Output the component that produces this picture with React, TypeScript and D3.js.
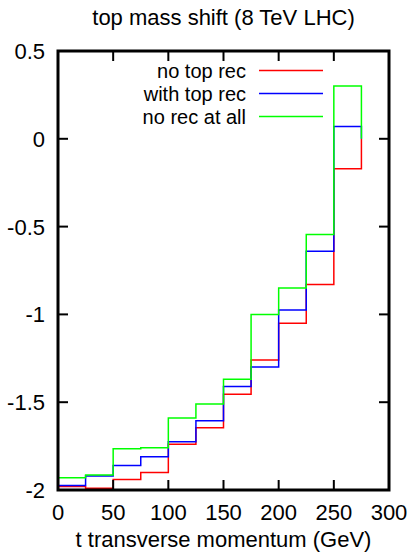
import { useEffect, useRef } from 'react'
import * as d3 from 'd3'

// bin left edges (GeV), bins are 25 GeV wide
const binEdges = [0, 25, 50, 75, 100, 125, 150, 175, 200, 225, 250]
const binWidth = 25

const noTopRec = [-1.98, -1.99, -1.94, -1.9, -1.74, -1.645, -1.455, -1.26, -1.05, -0.83, -0.17]
const withTopRec = [-1.975, -1.92, -1.86, -1.81, -1.725, -1.605, -1.41, -1.3, -0.975, -0.64, 0.07]
const noRecAtAll = [-1.93, -1.915, -1.765, -1.76, -1.59, -1.51, -1.37, -1.0, -0.85, -0.545, 0.3]

const seriesNames = ['no top rec', 'with top rec', 'no rec at all']
const seriesColors = ['#ff0000', '#0000ff', '#00ff00']

const xTicks = [0, 50, 100, 150, 200, 250, 300]
const yTicks = [0.5, 0, -0.5, -1, -1.5, -2]

const width = 412
const height = 558
const margin = { left: 58, right: 23, top: 51, bottom: 68 }
const font = '"Liberation Sans", Arial, Helvetica, sans-serif'
const fontSize = '22px'

export default function App() {
    const svgRef = useRef<SVGSVGElement>(null)

    useEffect(() => {
        if (!svgRef.current) return
        const svg = d3.select(svgRef.current)
        svg.selectAll('*').remove()

        const x = d3.scaleLinear().domain([0, 300]).range([margin.left, width - margin.right])
        const y = d3.scaleLinear().domain([-2, 0.5]).range([height - margin.bottom, margin.top])

        // histogram steps, going to 0 at both ends like gnuplot histeps
        const allSeries = [noTopRec, withTopRec, noRecAtAll]
        const line = d3.line<[number, number]>()
            .x(d => x(d[0]))
            .y(d => y(d[1]))

        allSeries.forEach((vals, i) => {
            const pts: [number, number][] = [[binEdges[0], 0]]
            vals.forEach((v, j) => {
                pts.push([binEdges[j], v])
                pts.push([binEdges[j] + binWidth, v])
            })
            pts.push([binEdges[binEdges.length - 1] + binWidth, 0])
            svg.append('path')
                .attr('d', line(pts))
                .attr('fill', 'none')
                .attr('stroke', seriesColors[i])
                .attr('stroke-width', 1.5)
        })

        // ticks (mirrored on all sides)
        const tickLen = 10
        const ticks = svg.append('g').attr('stroke', 'black').attr('stroke-width', 2)
        xTicks.forEach(t => {
            ticks.append('line').attr('x1', x(t)).attr('x2', x(t))
                .attr('y1', y(-2)).attr('y2', y(-2) - tickLen)
            ticks.append('line').attr('x1', x(t)).attr('x2', x(t))
                .attr('y1', y(0.5)).attr('y2', y(0.5) + tickLen)
        })
        yTicks.forEach(t => {
            ticks.append('line').attr('x1', x(0)).attr('x2', x(0) + tickLen)
                .attr('y1', y(t)).attr('y2', y(t))
            ticks.append('line').attr('x1', x(300)).attr('x2', x(300) - tickLen)
                .attr('y1', y(t)).attr('y2', y(t))
        })

        // frame
        svg.append('rect')
            .attr('x', x(0)).attr('y', y(0.5))
            .attr('width', x(300) - x(0)).attr('height', y(-2) - y(0.5))
            .attr('fill', 'none').attr('stroke', 'black').attr('stroke-width', 3)

        // tick labels
        svg.append('g').selectAll('text').data(xTicks).enter().append('text')
            .attr('x', d => x(d)).attr('y', y(-2) + 30)
            .attr('text-anchor', 'middle')
            .style('font-family', font).style('font-size', fontSize)
            .text(d => d)
        svg.append('g').selectAll('text').data(yTicks).enter().append('text')
            .attr('x', x(0) - 13).attr('y', d => y(d))
            .attr('dy', '0.36em')
            .attr('text-anchor', 'end')
            .style('font-family', font).style('font-size', fontSize)
            .text(d => String(d))

        // title and axis label
        svg.append('text')
            .attr('x', (x(0) + x(300)) / 2).attr('y', 25)
            .attr('text-anchor', 'middle')
            .style('font-family', font).style('font-size', fontSize)
            .text('top mass shift (8 TeV LHC)')
        svg.append('text')
            .attr('x', (x(0) + x(300)) / 2).attr('y', 547)
            .attr('text-anchor', 'middle')
            .style('font-family', font).style('font-size', fontSize)
            .text('t transverse momentum (GeV)')

        // legend
        const legend = svg.append('g')
        seriesNames.forEach((name, i) => {
            const ly = 70.5 + i * 23
            legend.append('text')
                .attr('x', 246).attr('y', ly).attr('dy', '0.36em')
                .attr('text-anchor', 'end')
                .style('font-family', font).style('font-size', '20px')
                .text(name)
            legend.append('line')
                .attr('x1', 259).attr('x2', 323)
                .attr('y1', ly).attr('y2', ly)
                .attr('stroke', seriesColors[i]).attr('stroke-width', 1.5)
        })
    }, [])

    return (
        <svg ref={svgRef} width={width} height={height}
            style={{ position: 'absolute', left: 0, top: 0, background: 'white' }} />
    )
}
